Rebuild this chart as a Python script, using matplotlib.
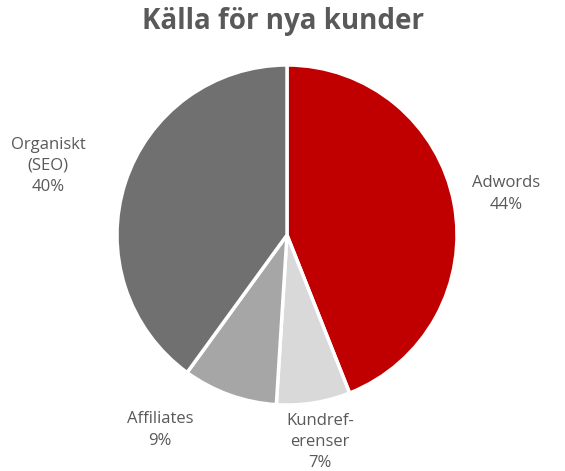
import matplotlib.pyplot as plt

labels = ['Adwords\n44%', 'Kundref-\nerenser\n7%', 'Affiliates\n9%', 'Organiskt\n(SEO)\n40%']
values = [44, 7, 9, 40]
colors = ['#C00000', '#D9D9D9', '#A6A6A6', '#707070']
label_pos = [(506, 277), (320, 29), (160, 41), (48, 305)]

plt.rcParams['font.family'] = ['Open Sans', 'DejaVu Sans']
txt = '#595959'

fig = plt.figure(figsize=(5.65, 4.71), dpi=100)
ax = fig.add_axes([0, 0, 1, 1])
ax.set_xlim(0, 565)
ax.set_ylim(0, 471)
ax.axis('off')

ax.pie(values, colors=colors, startangle=90, counterclock=False,
       center=(287, 236), radius=170,
       wedgeprops=dict(edgecolor='white', linewidth=2.5))
ax.set_xlim(0, 565)
ax.set_ylim(0, 471)

for lab, (x, y) in zip(labels, label_pos):
    ax.text(x, y, lab, ha='center', va='center', fontsize=12,
            color=txt, linespacing=1.45)

ax.text(283, 450, 'Källa för nya kunder', ha='center', va='center',
        fontsize=20, fontweight='bold', color=txt)

fig.savefig('out.png', dpi=100)
